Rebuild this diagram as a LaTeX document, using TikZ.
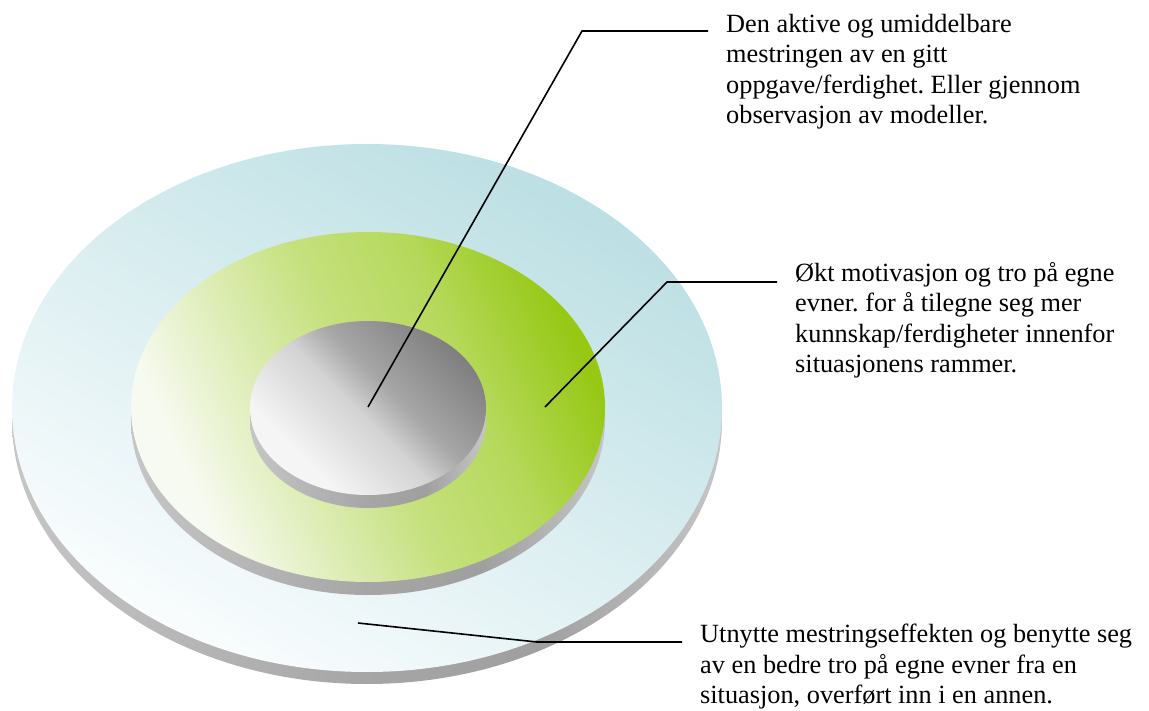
\documentclass[tikz,border=0pt]{standalone}
\usepackage{fontspec}
\setmainfont{Liberation Serif}
\frenchspacing
\usetikzlibrary{positioning}
\definecolor{skyface}{HTML}{BBDFE3}
\definecolor{skylight}{HTML}{FAFDFE}
\definecolor{leafface}{HTML}{96C814}
\definecolor{leaflight}{HTML}{F7FAF0}
\pgfdeclarehorizontalshading{rim}{100bp}{color(0bp)=(gray!45); color(25bp)=(gray!45); color(50bp)=(gray!70); color(62bp)=(gray!75); color(75bp)=(gray!45); color(100bp)=(gray!45)}
\pgfdeclarehorizontalshading{metal}{100bp}{color(0bp)=(gray!8); color(30bp)=(gray!8); color(48bp)=(gray!35); color(53bp)=(gray!55); color(57bp)=(gray!70); color(75bp)=(gray!100); color(100bp)=(gray!100)}
\pgfdeclarehorizontalshading{leaf}{100bp}{color(0bp)=(leaflight); color(28bp)=(leaflight); color(50bp)=(leafface!55); color(62bp)=(leafface!70); color(75bp)=(leafface); color(100bp)=(leafface)}
\begin{document}
\begin{tikzpicture}[x=1pt,y=-1pt,
  note/.style={anchor=north west,align=left,inner xsep=18pt,inner ysep=0pt,font=\fontsize{26.3}{30.5}\selectfont},
  leader/.style={draw,line width=1.6pt}]
\useasboundingbox (0,0) rectangle (1149,711);
% outer disc
\shade[shading=rim] (367,420) ellipse [x radius=355pt,y radius=264pt];
\shade[left color=skylight,right color=skyface,shading angle=150] (367,408) ellipse [x radius=355pt,y radius=264pt];
% middle disc
\shade[shading=rim] (368,420) ellipse [x radius=237pt,y radius=175pt];
\shade[shading=leaf,shading angle=25] (368,407) ellipse [x radius=237pt,y radius=175pt];
% inner disc
\shade[shading=rim] (368,421) ellipse [x radius=118pt,y radius=87pt];
\shade[shading=metal,shading angle=45] (368,408) ellipse [x radius=118pt,y radius=87pt];
%
\coordinate (core) at (368,407);
\coordinate (ring) at (545,407);
\coordinate (base) at (358,623);
\coordinate (bend1) at (582,31);
\coordinate (bend2) at (667,282);
\coordinate (bend3) at (537,642);
%
\node[note] (t1) at (708,14) {Den aktive og umiddelbare\\mestringen av en gitt\\oppgave/ferdighet. Eller gjennom\\observasjon av modeller.};
\node[note] (t2) at (777,262) {Økt motivasjon og tro på egne\\evner. for å tilegne seg mer\\kunnskap/ferdigheter innenfor\\situasjonens rammer.};
\node[note] (t3) at (682,624) {Utnytte mestringseffekten og benytte seg\\av en bedre tro på egne evner fra en\\situasjon, overført inn i en annen.};
%
\draw[leader] (core) -- (bend1) -- (bend1 -| t1.west);
\draw[leader] (ring) -- (bend2) -- (bend2 -| t2.west);
\draw[leader] (base) -- (bend3) -- (bend3 -| t3.west);
%
\end{tikzpicture}
\end{document}
